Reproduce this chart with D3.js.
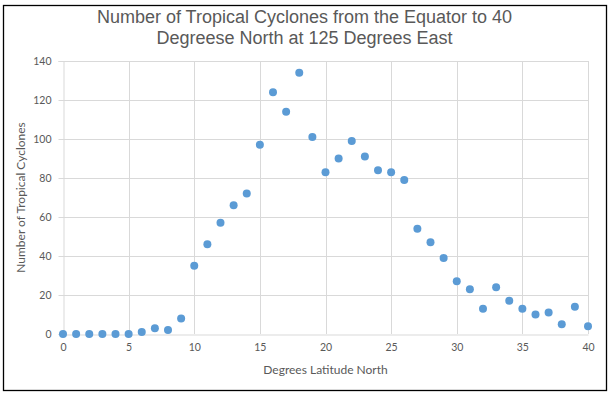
<!DOCTYPE html>
<html>
<head>
<meta charset="utf-8">
<script src="https://cdn.jsdelivr.net/npm/d3@7"></script>
<style>
  body { margin: 0; background: #fff; }
  text { fill: #595959; }
</style>
</head>
<body>
<div id="chart"></div>
<script>
// degrees latitude north
var latitude = d3.range(0, 41);
// number of tropical cyclones at each latitude
var cyclones = [0, 0, 0, 0, 0, 0, 1, 3, 2, 8,
                35, 46, 57, 66, 72, 97, 124, 114, 134, 101,
                83, 90, 99, 91, 84, 83, 79, 54, 47, 39,
                27, 23, 13, 24, 17, 13, 10, 11, 5, 14,
                4];
var xTicks = [0, 5, 10, 15, 20, 25, 30, 35, 40];
var yTicks = [0, 20, 40, 60, 80, 100, 120, 140];
var titleLines = ["Number of Tropical Cyclones from the Equator to 40",
                  "Degreese North at 125 Degrees East"];

var width = 609, height = 393;
var margin = {top: 61, right: 21, bottom: 59, left: 63};

var svg = d3.select("#chart").append("svg")
    .attr("width", width)
    .attr("height", height);

// outer frame
svg.append("rect")
    .attr("x", 3.5).attr("y", 5.5)
    .attr("width", 603).attr("height", 385)
    .attr("fill", "none")
    .attr("stroke", "#000")
    .attr("stroke-width", 1.3);

var x = d3.scaleLinear().domain([0, 40]).range([margin.left, width - margin.right]);
var y = d3.scaleLinear().domain([0, 140]).range([height - margin.bottom, margin.top]);

// gridlines
svg.append("g")
    .selectAll("line.h")
    .data(yTicks.slice(1))
    .enter()
    .append("line")
    .attr("x1", x(0)).attr("x2", x(40))
    .attr("y1", d => Math.round(y(d)) + 0.5)
    .attr("y2", d => Math.round(y(d)) + 0.5)
    .attr("stroke", "#d9d9d9");

svg.append("g")
    .selectAll("line.v")
    .data(xTicks.slice(1))
    .enter()
    .append("line")
    .attr("y1", y(0)).attr("y2", y(140))
    .attr("x1", d => Math.round(x(d)) + 0.5)
    .attr("x2", d => Math.round(x(d)) + 0.5)
    .attr("stroke", "#d9d9d9");

// axes
var xAxis = svg.append("g")
    .attr("transform", "translate(0," + (Math.round(y(0)) + 0.5) + ")")
    .call(d3.axisBottom(x).tickValues(xTicks).tickSize(0).tickPadding(9));

var yAxis = svg.append("g")
    .attr("transform", "translate(" + (Math.round(x(0)) + 0.5) + ",0)")
    .call(d3.axisLeft(y).tickValues(yTicks).tickSize(5).tickPadding(7));

[xAxis, yAxis].forEach(function(g) {
    g.select(".domain").attr("stroke", "#d9d9d9");
    g.selectAll(".tick line").attr("stroke", "#d9d9d9");
    g.selectAll("text")
        .attr("font-family", "Lato, 'Open Sans', sans-serif")
        .attr("font-size", 10.5)
        .style("fill", "#595959");
});

// points
svg.append("g")
    .selectAll("circle")
    .data(latitude)
    .enter()
    .append("circle")
    .attr("cx", d => x(d))
    .attr("cy", (d, i) => y(cyclones[i]))
    .attr("r", 4)
    .attr("fill", "#5b9bd5");

// title
svg.append("text")
    .attr("text-anchor", "middle")
    .attr("font-family", "'Liberation Sans', Arial, sans-serif")
    .attr("font-size", 18)
    .selectAll("tspan")
    .data(titleLines)
    .enter()
    .append("tspan")
    .attr("x", width / 2)
    .attr("y", (d, i) => 23 + i * 21)
    .text(d => d);

// axis titles
svg.append("text")
    .attr("x", (x(0) + x(40)) / 2)
    .attr("y", 374)
    .attr("text-anchor", "middle")
    .attr("font-family", "Lato, 'Open Sans', sans-serif")
    .attr("font-size", 12)
    .text("Degrees Latitude North");

svg.append("text")
    .attr("transform", "translate(25," + ((y(0) + y(140)) / 2) + ") rotate(-90)")
    .attr("text-anchor", "middle")
    .attr("font-family", "Lato, 'Open Sans', sans-serif")
    .attr("font-size", 12)
    .text("Number of Tropical Cyclones");
</script>
</body>
</html>
